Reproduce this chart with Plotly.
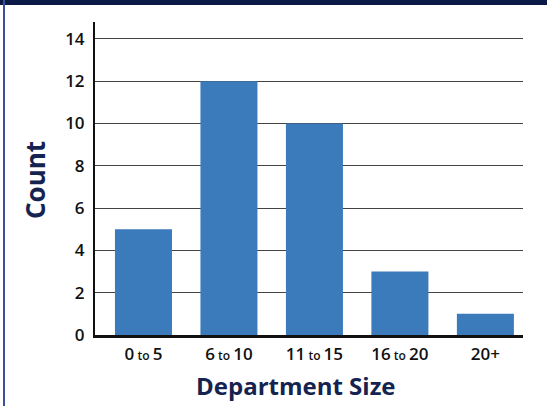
import plotly.graph_objects as go

categories = ["0 to 5", "6 to 10", "11 to 15", "16 to 20", "20+"]
tick_labels = ["0<span style='font-size:12px'> to </span>5",
               "6<span style='font-size:12px'> to </span>10",
               "11<span style='font-size:12px'> to </span>15",
               "16<span style='font-size:12px'> to </span>20",
               "20+"]
counts = [5, 12, 10, 3, 1]

W, H = 547, 406
L, R, T, B = 95, 24, 22, 71
pw, ph = W - L - R, H - T - B

fig = go.Figure(go.Bar(x=categories, y=counts, marker_color="#3c7bbb",
                       marker_line_width=0, width=0.667))

navy = "#14234f"
tickfont = dict(size=17, family="Open Sans", weight=600, color="#111111")
fig.update_layout(
    width=W, height=H,
    margin=dict(l=L, r=R, t=T, b=B),
    paper_bgcolor="white", plot_bgcolor="white",
    showlegend=False,
    font=dict(family="Open Sans", size=13, color="#111111"),
    xaxis=dict(tickmode="array", tickvals=categories, ticktext=tick_labels,
               showline=True, linecolor="#111111", linewidth=3, ticks="",
               tickfont=tickfont, ticklabelstandoff=2,
               showgrid=False, range=[-0.567, 4.44]),
    yaxis=dict(range=[0, 14.8], tickvals=[0, 2, 4, 6, 8, 10, 12, 14],
               showline=True, linecolor="#111111", linewidth=2,
               showgrid=True, gridcolor="#444444", gridwidth=1.3,
               ticks="", ticklabelstandoff=5, zeroline=False,
               tickfont=tickfont),
    annotations=[
        dict(text="<b>Department Size</b>", xref="paper", yref="paper",
             x=(296 - L) / pw, y=-(385 - T - ph) / ph, showarrow=False,
             xanchor="center", yanchor="middle",
             font=dict(family="Open Sans", size=24, color=navy)),
        dict(text="<b>Count</b>", xref="paper", yref="paper",
             x=(35 - L) / pw, y=1 - (180 - T) / ph, showarrow=False,
             textangle=-90, xanchor="center", yanchor="middle",
             font=dict(family="Open Sans", size=26, color=navy)),
    ],
    shapes=[
        dict(type="rect", xref="paper", yref="paper",
             x0=-L / pw, x1=(W - L) / pw,
             y0=1 + (T - 5) / ph, y1=1 + (T + 2) / ph,
             fillcolor="#0c1a47", line_width=0, layer="above"),
        dict(type="rect", xref="paper", yref="paper",
             x0=(3 - L) / pw, x1=(5 - L) / pw,
             y0=-B / ph - 0.01, y1=1 + T / ph,
             fillcolor="#3b4f9a", line_width=0, layer="above"),
    ],
)

fig.write_html("out.html")
